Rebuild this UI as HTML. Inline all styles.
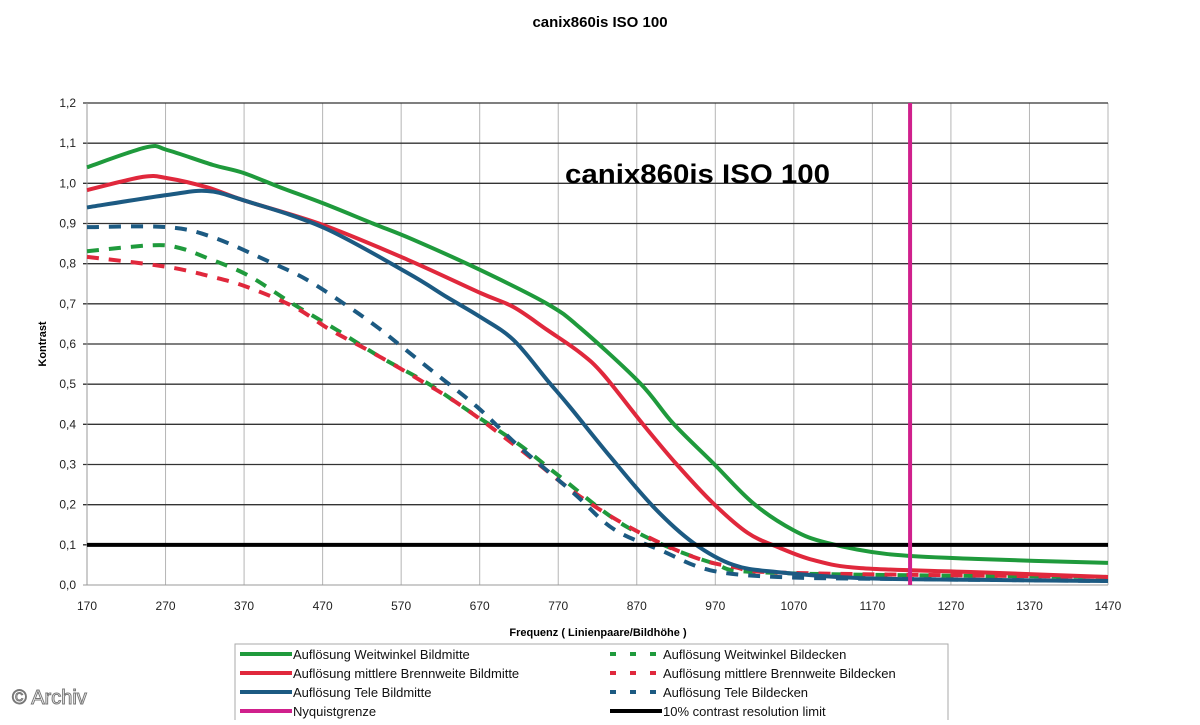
<!DOCTYPE html>
<html><head><meta charset="utf-8"><style>
body{margin:0;background:#fff;width:1200px;height:720px;overflow:hidden;font-family:"Liberation Sans",sans-serif}
</style></head><body>
<svg id="c" width="1200" height="720" font-family="Liberation Sans, sans-serif"></svg>
<script>
const xTicks=[170,270,370,470,570,670,770,870,970,1070,1170,1270,1370,1470];
const yTicks=[0,0.1,0.2,0.3,0.4,0.5,0.6,0.7,0.8,0.9,1.0,1.1,1.2];
const greenSolidX=[170,246,272,330,369,416,471,534,585,671,756,798,874,916,967,1018,1069,1112,1189,1300,1470];
const greenSolidY=[1.04,1.09,1.083,1.046,1.026,0.99,0.95,0.90,0.86,0.784,0.70,0.64,0.503,0.403,0.304,0.204,0.137,0.105,0.077,0.065,0.055];
const redSolidX=[170,241,272,323,369,471,578,671,713,756,798,827,878,921,967,1011,1049,1095,1155,1300,1470];
const redSolidY=[0.983,1.016,1.013,0.99,0.958,0.896,0.81,0.727,0.692,0.635,0.578,0.525,0.40,0.30,0.204,0.13,0.095,0.062,0.042,0.032,0.02];
const blueSolidX=[170,272,323,369,471,578,628,671,713,756,785,836,891,942,993,1049,1155,1300,1470];
const blueSolidY=[0.94,0.971,0.981,0.958,0.89,0.777,0.717,0.667,0.61,0.51,0.443,0.32,0.195,0.105,0.05,0.032,0.017,0.013,0.01];
const blueDashX=[170,272,330,403,450,505,541,573,616,667,720,789,840,900,963,1050,1200,1470];
const blueDashY=[0.891,0.891,0.866,0.804,0.76,0.69,0.64,0.59,0.523,0.443,0.345,0.23,0.14,0.087,0.037,0.02,0.015,0.01];
const greenDashX=[170,254,288,323,374,432,488,543,603,654,720,772,858,963,1050,1470];
const greenDashY=[0.831,0.846,0.839,0.814,0.772,0.70,0.635,0.568,0.503,0.436,0.35,0.27,0.144,0.057,0.03,0.02];
const redDashX=[170,272,330,374,434,480,534,594,649,720,798,874,942,993,1070,1470];
const redDashY=[0.817,0.792,0.767,0.742,0.692,0.635,0.578,0.51,0.443,0.34,0.22,0.13,0.07,0.045,0.03,0.02];
const nyquist=1218;
const limit=0.1;

const svg=document.getElementById('c');const NS='http://www.w3.org/2000/svg';
const X0=87,X1=1108,Y0=585,Y1=103;
const sx=v=>X0+(v-170)/1300*(X1-X0);
const sy=v=>Y0-v/1.2*(Y0-Y1);
function el(t,a,txt){const e=document.createElementNS(NS,t);for(const k in a)e.setAttribute(k,a[k]);if(txt!=null)e.textContent=txt;svg.appendChild(e);return e;}
let e;
e=el('text',{x:600,y:27,'text-anchor':'middle','font-size':15,'font-weight':'bold'},'canix860is ISO 100');


xTicks.forEach(t=>{const g=el('line',{x1:sx(t),x2:sx(t),y1:Y1,y2:Y0,stroke:'#b5b5b5','stroke-width':1});


const l=el('text',{x:sx(t),y:610,'text-anchor':'middle','font-size':12,fill:'#222'},t);

});
yTicks.forEach(t=>{const g=el('line',{x1:X0-4,x2:X1,y1:sy(t),y2:sy(t),stroke:t===0?'#999':'#333','stroke-width':t===0?1:1.3});


const l=el('text',{x:76,y:sy(t)+4,'text-anchor':'end','font-size':12,fill:'#222'},t.toFixed(1).replace('.',','));

});
e=el('line',{x1:X0,x2:X0,y1:Y1,y2:Y0,stroke:'#999'});


e=el('text',{x:46,y:344,'text-anchor':'middle','font-size':11,'font-weight':'bold',transform:'rotate(-90 46 344)'},'Kontrast');


e=el('text',{x:598,y:636,'text-anchor':'middle','font-size':11,'font-weight':'bold'},'Frequenz ( Linienpaare/Bildhöhe )');


e=el('text',{x:565,y:183,'font-size':27,'font-weight':'bold',textLength:265,lengthAdjust:'spacingAndGlyphs'},'canix860is ISO 100');


function spline(xs,ys){const p=xs.map((x,i)=>[sx(x),sy(ys[i])]);let d='M'+p[0][0]+','+p[0][1];
for(let i=0;i<p.length-1;i++){const a=p[i-1]||p[i],b=p[i],c=p[i+1],n=p[i+2]||c;
d+=' C'+(b[0]+(c[0]-a[0])/6)+','+(b[1]+(c[1]-a[1])/6)+' '+(c[0]-(n[0]-b[0])/6)+','+(c[1]-(n[1]-b[1])/6)+' '+c[0]+','+c[1];}return d;}
const series=[[greenDashX,greenDashY,'#1f9a3c',true,'green-dashed-series'],[redDashX,redDashY,'#e0283c',true,'red-dashed-series'],[blueDashX,blueDashY,'#1c5a82',true,'blue-dashed-series'],
[greenSolidX,greenSolidY,'#1f9a3c',false,'green-solid-series'],[redSolidX,redSolidY,'#e0283c',false,'red-solid-series'],[blueSolidX,blueSolidY,'#1c5a82',false,'blue-solid-series']];
series.forEach(s=>{const p=el('path',{d:spline(s[0],s[1]),fill:'none',stroke:s[2],'stroke-width':4,'stroke-dasharray':s[3]?'12 10':'none'});

});
e=el('line',{x1:X0,x2:X1,y1:sy(limit),y2:sy(limit),stroke:'#000','stroke-width':4});


e=el('line',{x1:sx(nyquist),x2:sx(nyquist),y1:Y1,y2:Y0,stroke:'#d0208c','stroke-width':4});


e=el('rect',{x:235,y:644,width:713,height:80,fill:'#fff',stroke:'#aaa'});


const leg=[[240,'#1f9a3c',false,'Auflösung Weitwinkel Bildmitte',0],[240,'#e0283c',false,'Auflösung mittlere Brennweite Bildmitte',1],[240,'#1c5a82',false,'Auflösung Tele Bildmitte',2],[240,'#d0208c',false,'Nyquistgrenze',3],
[610,'#1f9a3c',true,'Auflösung Weitwinkel Bildecken',0],[610,'#e0283c',true,'Auflösung mittlere Brennweite Bildecken',1],[610,'#1c5a82',true,'Auflösung Tele Bildecken',2],[610,'#000',false,'10% contrast resolution limit',3]];
leg.forEach(l=>{const y=654+l[4]*19;const ln=el('line',{x1:l[0],x2:l[0]+52,y1:y,y2:y,stroke:l[1],'stroke-width':4,'stroke-dasharray':l[2]?'6 14':'none'});


const t=el('text',{x:l[0]+53,y:y+5,'font-size':13,fill:'#111'},l[3]);

});
e=el('text',{x:12,y:704,'font-size':20,fill:'#fff',stroke:'#777','stroke-width':1},'© Archiv');


</script>
</body></html>
